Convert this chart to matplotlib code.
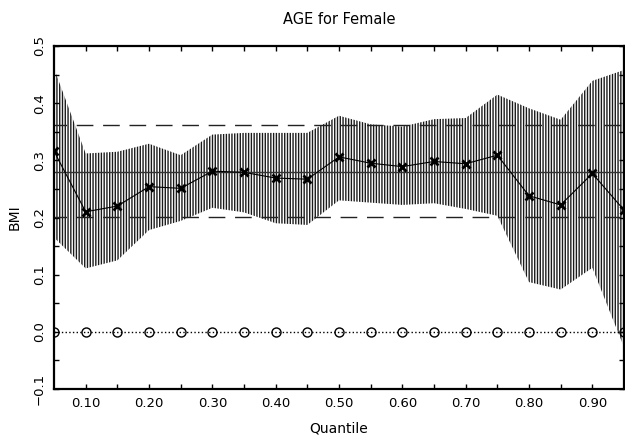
import numpy as np
import matplotlib
matplotlib.use("Agg")
import matplotlib.pyplot as plt
from matplotlib.ticker import FixedLocator

# ---- data ----
quantiles = [0.05, 0.10, 0.15, 0.20, 0.25, 0.30, 0.35, 0.40, 0.45, 0.50,
             0.55, 0.60, 0.65, 0.70, 0.75, 0.80, 0.85, 0.90, 0.95]
estimate = [0.316, 0.210, 0.220, 0.254, 0.251, 0.281, 0.279, 0.269, 0.267, 0.306,
            0.295, 0.289, 0.298, 0.294, 0.309, 0.238, 0.222, 0.277, 0.213]
upper = [0.461, 0.312, 0.315, 0.329, 0.309, 0.345, 0.348, 0.348, 0.348, 0.378,
         0.363, 0.359, 0.372, 0.374, 0.415, 0.391, 0.371, 0.439, 0.458]
lower = [0.165, 0.111, 0.125, 0.178, 0.194, 0.217, 0.209, 0.190, 0.187, 0.230,
         0.226, 0.222, 0.225, 0.215, 0.203, 0.087, 0.074, 0.112, -0.027]
ols_coef = 0.280
ols_lo = 0.201
ols_hi = 0.361
zero_line = [0.0] * len(quantiles)

title = "AGE for Female"
xlabel = "Quantile"
ylabel = "BMI"
xtick_vals = [0.10, 0.20, 0.30, 0.40, 0.50, 0.60, 0.70, 0.80, 0.90]
xtick_labels = ["0.10", "0.20", "0.30", "0.40", "0.50", "0.60", "0.70", "0.80", "0.90"]
ytick_vals = [-0.1, 0.0, 0.1, 0.2, 0.3, 0.4, 0.5]
ytick_labels = ["\u22120.1", "0.0", "0.1", "0.2", "0.3", "0.4", "0.5"]

plt.rcParams['hatch.linewidth'] = 1.0
plt.rcParams['font.family'] = ['DejaVu Sans']

fig = plt.figure(figsize=(6.25, 4.41), dpi=100)
ax = fig.add_axes([0.0864, 0.1179, 0.9120, 0.7778])

ax.fill_between(quantiles, lower, upper, facecolor='white', edgecolor='#1a1a1a',
                hatch='||||||', linewidth=0, zorder=1)

ax.axhline(ols_coef, color='#333333', lw=1.0, zorder=2)
ax.axhline(ols_lo, color='#222222', lw=1.0, linestyle=(3, (12, 7)), zorder=2)
ax.axhline(ols_hi, color='#222222', lw=1.0, linestyle=(3, (12, 7)), zorder=2)

ax.plot(quantiles, estimate, color='black', lw=0.8, marker='x', ms=5.5, mew=2.0, zorder=3)
ax.plot(quantiles, zero_line, color='black', lw=1.0, linestyle=':', marker='o',
        ms=6.5, mfc='none', mec='black', mew=1.0, zorder=3)

ax.set_xlim(0.05, 0.95)
ax.set_ylim(-0.1, 0.5)

ax.xaxis.set_major_locator(FixedLocator(xtick_vals))
ax.set_xticklabels(xtick_labels)
ax.xaxis.set_minor_locator(FixedLocator([0.15, 0.25, 0.35, 0.45, 0.55, 0.65, 0.75, 0.85]))
ax.yaxis.set_major_locator(FixedLocator(ytick_vals))
ax.set_yticklabels(ytick_labels, rotation=90, va='center')
ax.yaxis.set_minor_locator(FixedLocator([-0.05, 0.05, 0.15, 0.25, 0.35, 0.45]))

ax.tick_params(which='both', direction='in', length=3.5, width=1.0,
               top=True, right=True, labelsize=9.5, pad=6)

for s in ax.spines.values():
    s.set_linewidth(1.6)

ax.set_title(title, fontsize=10.5, pad=16)
ax.set_xlabel(xlabel, fontsize=10, labelpad=8)
ax.set_ylabel(ylabel, fontsize=10, labelpad=8)

fig.savefig("out.png", dpi=100)
